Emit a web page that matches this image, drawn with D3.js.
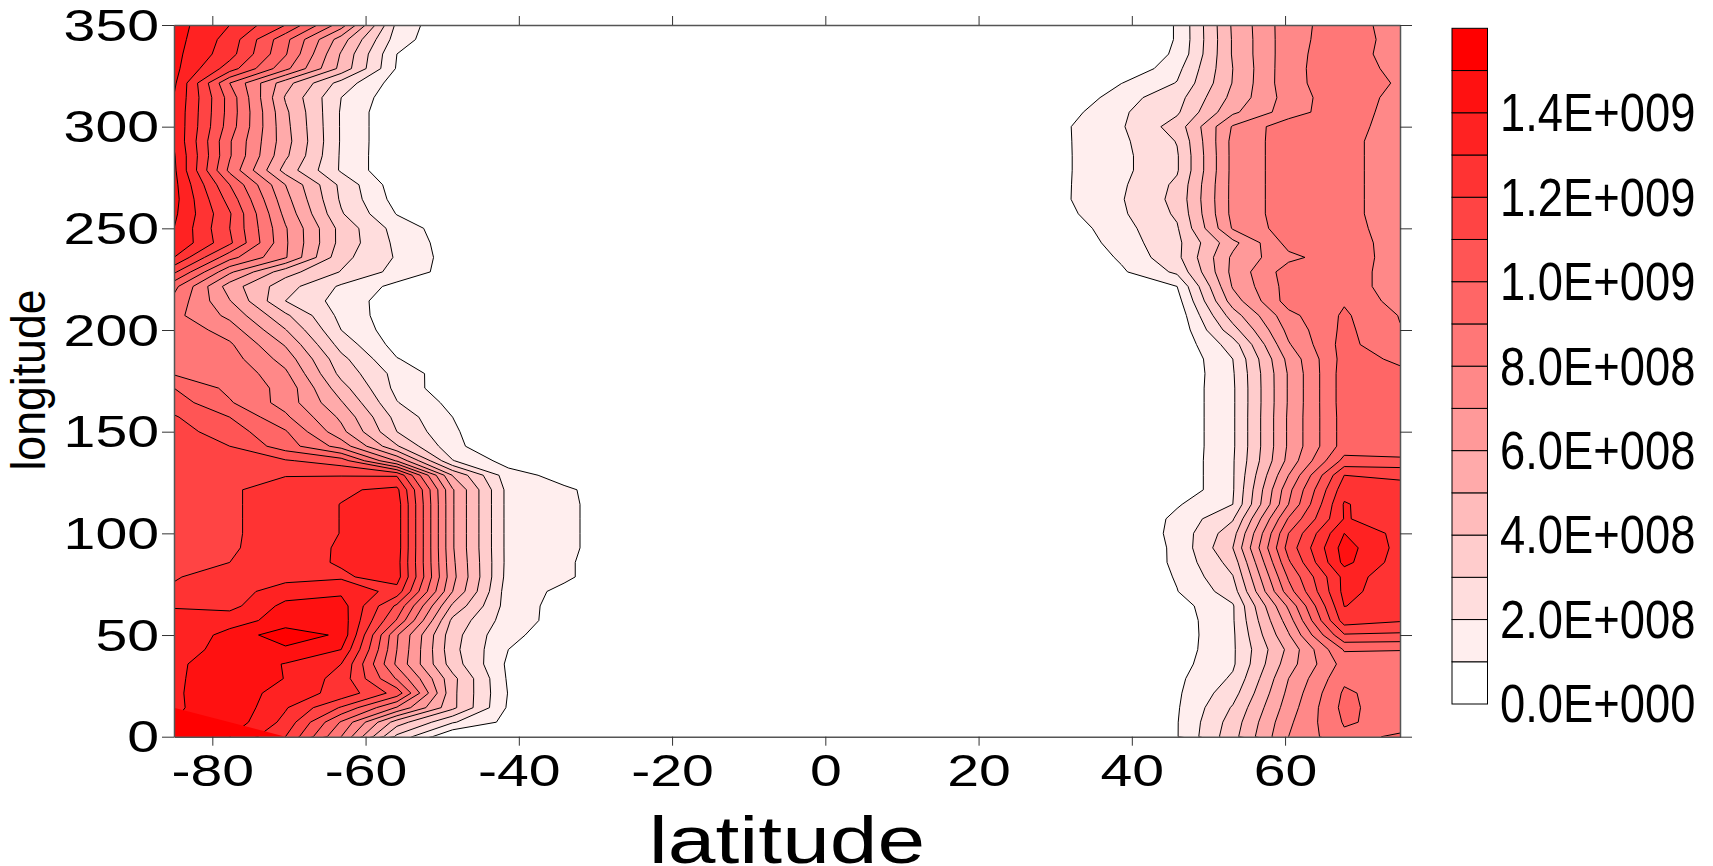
<!DOCTYPE html>
<html>
<head>
<meta charset="utf-8">
<script src="https://cdn.jsdelivr.net/npm/d3@7"></script>
<style>
  html, body { margin: 0; padding: 0; background: #fff; }
  text { font-family: "Liberation Sans", Arial, sans-serif; fill: #000; }
</style>
</head>
<body>
<div id="vis-container"></div>
<script>
let width_map = 1713;
let height_map = 866;

// the grid the contours were read from, 23 latitudes by 50 longitudes
let latitudes = [-85, -77.73, -70.45, -63.18, -55.91, -48.64, -41.36, -34.09, -26.82, -19.55, -12.27, -5, 2.27, 9.55, 16.82, 24.09, 31.36, 38.64, 45.91, 53.18, 60.45, 67.73, 75];
let lon_step = 350 / 49;

// values in units of 1E+008, one row per longitude from 0 to 350
// southern columns, latitude -85 to -26.82
let south_values = [
  [14.2, 14.0, 12.0, 8.0, 2.75, 0, 0, 0, 0],
  [14.0, 14.66, 12.7, 8.9, 4.5, 2.1, 0.7, 0, 0],
  [13.8, 14.8, 13.1, 10.9, 7.9, 4.25, 0.85, 0, 0],
  [13.85, 14.7, 13.5, 12.7, 10.6, 4.25, 0.95, 0, 0],
  [13.8, 14.75, 13.97, 12.6, 8.9, 4.3, 0.85, 0, 0],
  [13.8, 14.6, 13.95, 13.0, 7.8, 3.5, 0.8, 0, 0],
  [13.55, 14.36, 14.77, 14.0, 8.0, 3.3, 1.0, 0.3, 0],
  [13.4, 14.25, 15.7, 14.79, 8.1, 3.4, 1.13, 0.7, 0],
  [13.25, 13.68, 14.3, 14.6, 9.9, 3.75, 1.47, 0.61, 0],
  [12.95, 12.65, 14.3, 14.45, 10.8, 4.8, 1.53, 0.6, 0],
  [12.1, 12.6, 13.45, 13.8, 12.6, 6.0, 1.45, 0.8, 0],
  [11.95, 12.3, 12.7, 12.85, 13.45, 6.3, 1.6, 1.15, 0.4],
  [11.9, 12.0, 12.6, 13.1, 13.4, 6.2, 1.65, 1.15, 0.4],
  [11.9, 11.87, 12.55, 13.1, 13.5, 6.1, 1.65, 1.2, 0.5],
  [11.85, 11.85, 12.5, 13.02, 13.5, 6.1, 1.65, 1.2, 0.5],
  [11.85, 11.85, 12.5, 13.02, 13.5, 6.1, 1.65, 1.2, 0.5],
  [11.8, 11.85, 12.5, 13.02, 13.5, 6.1, 1.65, 1.2, 0.5],
  [11.75, 11.85, 12.5, 12.85, 13.25, 6.1, 1.65, 1.15, 0.5],
  [11.7, 11.6, 11.95, 11.95, 11.9, 4.95, 1.4, 0.65, 0],
  [11.6, 11.2, 11.1, 10.5, 6.9, 2.05, 0.6, 0, 0],
  [11.5, 11.0, 9.5, 7.6, 4.1, 1.3, 0, 0, 0],
  [11.4, 10.5, 9.1, 6.3, 3.0, 1.15, 0, 0, 0],
  [11.1, 10.0, 8.2, 5.8, 2.65, 1.0, 0, 0, 0],
  [10.5, 9.1, 7.6, 5.1, 2.05, 0.7, 0, 0, 0],
  [10.0, 8.75, 7.7, 4.4, 1.7, 0.3, 0, 0, 0],
  [8.9, 8.85, 7.2, 3.7, 1.64, 0.35, 0, 0, 0],
  [8.7, 8.46, 6.6, 3.3, 1.05, 0.2, 0, 0, 0],
  [8.6, 8.15, 5.9, 2.6, 0.6, 0, 0, 0, 0],
  [8.8, 7.5, 5.05, 2.0, 0.4, 0, 0, 0, 0],
  [8.3, 6.75, 4.2, 1.7, 0.35, 0, 0, 0, 0],
  [8.7, 6.05, 3.0, 1.6, 0.4, 0, 0, 0, 0],
  [9.3, 5.5, 3.4, 1.85, 0.7, 0, 0, 0, 0],
  [11.2, 7.2, 4.4, 2.95, 1.67, 0.55, 0, 0, 0],
  [13.0, 9.35, 7.1, 3.3, 1.9, 0.53, 0, 0, 0],
  [13.95, 11.2, 7.15, 3.65, 1.77, 0.48, 0, 0, 0],
  [14.0, 11.0, 7.1, 3.65, 1.6, 0.35, 0, 0, 0],
  [14.2, 11.1, 6.7, 3.1, 0.95, 0, 0, 0, 0],
  [14.35, 10.6, 6.35, 2.85, 0.6, 0, 0, 0, 0],
  [14.3, 10.0, 6.0, 2.75, 0.4, 0, 0, 0, 0],
  [14.2, 8.75, 4.6, 1.87, 0.1, 0, 0, 0, 0],
  [14.1, 9.1, 5.2, 1.87, 0.1, 0, 0, 0, 0],
  [13.9, 9.1, 5.4, 1.9, 0.1, 0, 0, 0, 0],
  [13.85, 9.5, 5.3, 1.9, 0.1, 0, 0, 0, 0],
  [13.85, 9.6, 5.2, 1.9, 0.1, 0, 0, 0, 0],
  [13.95, 9.6, 4.9, 2.0, 0.3, 0, 0, 0, 0],
  [14.2, 9.0, 5.4, 2.6, 0.5, 0, 0, 0, 0],
  [14.3, 11.5, 8.3, 4.7, 0.9, 0, 0, 0, 0],
  [14.3, 12.4, 9.1, 4.9, 1.0, 0, 0, 0, 0],
  [14.4, 12.6, 9.3, 5.5, 1.5, 0, 0, 0, 0],
  [14.4, 13.0, 11.0, 7.5, 1.75, 0, 0, 0, 0]
];

// northern columns, latitude 31.36 to 75
let north_values = [
  [0, 0, 0.95, 3.65, 7.0, 8.8, 9.1],
  [0, 0, 0.95, 3.45, 6.8, 9.1, 8.7],
  [0, 0, 0.9, 3.1, 6.5, 9.3, 8.27],
  [0, 0, 0.85, 2.6, 6.25, 9.16, 8.46],
  [0, 0, 0.79, 2.15, 6.0, 8.8, 8.4],
  [0, 0, 0.65, 1.85, 5.55, 8.4, 8.35],
  [0, 0, 0.5, 1.85, 5.25, 9.1, 9.05],
  [0, 0, 0.45, 1.85, 5.9, 10.9, 10.8],
  [0, 0, 0.45, 1.9, 6.5, 12.5, 12.1],
  [0, 0, 0.6, 1.9, 7.2, 13.02, 12.6],
  [0, 0, 0.97, 2.5, 8.55, 13.3, 12.4],
  [0, 0, 1.09, 2.95, 9.15, 13.3, 12.6],
  [0, 0, 1.22, 3.4, 9.85, 14.3, 12.5],
  [0, 0, 1.23, 4.0, 10.4, 14.45, 12.65],
  [0, 0, 1.33, 3.6, 10.0, 14.0, 12.65],
  [0, 0, 1.25, 2.9, 9.1, 13.05, 12.65],
  [0, 0, 0.9, 2.0, 8.0, 13.1, 12.2],
  [0, 0, 0.2, 1.9, 7.7, 12.6, 12.2],
  [0, 0, 0.2, 1.9, 7.0, 12.0, 11.9],
  [0, 0, 0.2, 1.9, 6.3, 10.33, 10.2],
  [0, 0, 0.2, 1.85, 6.15, 9.45, 9.4],
  [0, 0, 0.2, 1.85, 6.15, 9.45, 9.4],
  [0, 0, 0.2, 1.85, 6.15, 9.45, 9.4],
  [0, 0, 0.2, 1.85, 6.1, 9.5, 9.3],
  [0, 0, 0.2, 1.85, 6.1, 9.5, 9.3],
  [0, 0, 0.1, 1.9, 6.1, 9.5, 9.2],
  [0, 0, 0.1, 2.0, 6.3, 9.4, 8.83],
  [0, 0, 0.2, 2.5, 6.9, 9.4, 8.0],
  [0, 0, 0.2, 3.6, 7.3, 9.25, 8.05],
  [0, 0, 0.3, 4.5, 7.7, 9.15, 7.95],
  [0, 0, 0.6, 5.5, 8.45, 8.9, 7.55],
  [0, 0, 1.0, 6.1, 8.4, 8.6, 7.4],
  [0, 0.85, 2.2, 6.3, 8.5, 8.6, 7.4],
  [0, 1.15, 2.75, 6.2, 7.75, 8.6, 7.5],
  [0.1, 1.5, 2.75, 5.7, 8.35, 8.6, 7.45],
  [0.4, 1.65, 2.9, 7.1, 8.5, 8.5, 7.34],
  [0.75, 1.85, 3.15, 7.3, 8.5, 8.45, 7.2],
  [0.9, 1.93, 3.3, 7.3, 8.5, 8.45, 7.2],
  [0.9, 1.85, 3.2, 7.3, 8.5, 8.45, 7.2],
  [0.9, 1.75, 2.9, 7.3, 8.5, 8.45, 7.2],
  [0.9, 1.75, 2.9, 7.3, 8.5, 8.45, 7.2],
  [0.9, 1.8, 3.05, 7.3, 8.5, 8.45, 7.2],
  [0.9, 1.9, 3.45, 7.1, 8.6, 8.6, 7.3],
  [0.6, 1.86, 2.85, 5.8, 7.5, 8.75, 7.39],
  [0, 1.62, 2.6, 5.3, 7.45, 8.7, 7.6],
  [0, 0.98, 2.05, 5.05, 7.65, 8.7, 7.86],
  [0, 0, 1.7, 5.0, 7.65, 8.75, 7.58],
  [0, 0, 1.18, 5.1, 7.6, 8.75, 7.3],
  [0, 0, 1.07, 5.1, 7.6, 8.6, 7.55],
  [0, 0, 1.07, 5.15, 7.6, 8.53, 7.5]
];

// band at the corner with no contour line round it
let corner_lat = [-85, -85, -70.45];
let corner_lon = [0, 14.29, 0];

let levels = [1, 2, 3, 4, 5, 6, 7, 8, 9, 10, 11, 12, 13, 14, 15];
let legend_bands = [0, 1, 2, 3, 4, 5, 6, 7, 8, 9, 10, 11, 12, 13, 14, 15];
let legend_ticks = [0, 2, 4, 6, 8, 10, 12, 14];
let legend_labels = ["0.0E+000", "2.0E+008", "4.0E+008", "6.0E+008", "8.0E+008", "1.0E+009", "1.2E+009", "1.4E+009"];
let lat_ticks = [-80, -60, -40, -20, 0, 20, 40, 60];
let lon_ticks = [0, 50, 100, 150, 200, 250, 300, 350];

let x = d3.scaleLinear().domain([-85, 75]).range([174, 1400]);
let y = d3.scaleLinear().domain([0, 350]).range([736.7, 25]);
let legend_y = d3.scaleLinear().domain([0, 16]).range([704, 28.3]);

// white to pure red in 16 equal steps
let band_color = d3.scaleLinear().domain([0, 15]).range(["#ffffff", "#ff0000"]);

let svg = d3.select("#vis-container").append("svg")
  .attr("width", width_map)
  .attr("height", height_map)
  .style("display", "block");

svg.append("clipPath").attr("id", "plot-clip")
  .append("rect")
  .attr("x", x(-85)).attr("y", y(350))
  .attr("width", x(75) - x(-85)).attr("height", y(0) - y(350));

// join the two sides, white in between
let gap = latitudes.length - south_values[0].length - north_values[0].length;
let grid = [];
south_values.forEach(function(row, i) {
  grid = grid.concat(row, new Array(gap).fill(0), north_values[i]);
});

let contours = d3.contours()
  .size([latitudes.length, south_values.length])
  .thresholds(levels)(grid);

// contour coordinates have grid values at cell centres
let lat_at = d3.scaleLinear().domain([0.5, latitudes.length - 0.5]).range([-85, 75]);
let project = d3.geoTransform({
  point: function(cx, cy) {
    this.stream.point(x(lat_at(cx)), y((cy - 0.5) * lon_step));
  }
});
let path = d3.geoPath(project);

let plot = svg.append("g").attr("clip-path", "url(#plot-clip)");

plot.selectAll("path.band")
  .data(contours)
  .enter().append("path")
    .attr("class", "band")
    .attr("d", path)
    .attr("fill", function(d) { return band_color(d.value); })
    .attr("stroke", "#000")
    .attr("stroke-width", 1)
    .attr("stroke-linejoin", "round");

plot.append("path")
  .datum(corner_lat.map(function(d, i) { return [x(d), y(corner_lon[i])]; }))
  .attr("d", d3.line())
  .attr("fill", band_color(15));

// axes on all four sides, labels only left and bottom
function style_axis(g) {
  g.selectAll("path.domain").attr("stroke", "#555").attr("stroke-width", 1.5);
  g.selectAll(".tick line").attr("stroke", "#333").attr("stroke-width", 1);
}

function stretch_labels(g, sx, tx, ty) {
  g.selectAll(".tick text")
    .attr("x", null).attr("y", null).attr("dy", null)
    .attr("dominant-baseline", "central")
    .attr("transform", "translate(" + tx + "," + ty + ") scale(" + sx + ",1)")
    .style("font-size", "44px");
}

let axis_bottom = svg.append("g")
  .attr("transform", "translate(0," + y(0) + ")")
  .call(d3.axisBottom(x).tickValues(lat_ticks).tickFormat(function(d) { return String(d); }).tickSizeInner(9).tickSizeOuter(0));
axis_bottom.call(style_axis).call(stretch_labels, 1.3, 0, 34);
axis_bottom.selectAll(".tick text").attr("text-anchor", "middle");

let axis_top = svg.append("g")
  .attr("transform", "translate(0," + y(350) + ")")
  .call(d3.axisTop(x).tickValues(lat_ticks).tickFormat("").tickSizeInner(9).tickSizeOuter(0));
axis_top.call(style_axis);

let axis_left = svg.append("g")
  .attr("transform", "translate(" + x(-85) + ",0)")
  .call(d3.axisLeft(y).tickValues(lon_ticks).tickSizeInner(12).tickSizeOuter(0));
axis_left.call(style_axis).call(stretch_labels, 1.3, -15, 0);
axis_left.selectAll(".tick text").attr("text-anchor", "end");

let axis_right = svg.append("g")
  .attr("transform", "translate(" + x(75) + ",0)")
  .call(d3.axisRight(y).tickValues(lon_ticks).tickFormat("").tickSizeInner(12).tickSizeOuter(0));
axis_right.call(style_axis);

// axis titles
svg.append("text")
  .attr("transform", "translate(787,863) scale(1.28,1)")
  .attr("text-anchor", "middle")
  .style("font-size", "67px")
  .text("latitude");

svg.append("text")
  .attr("transform", "translate(45,380) rotate(-90) scale(0.93,1)")
  .attr("text-anchor", "middle")
  .style("font-size", "48px")
  .text("longitude");

// legend
let legend = svg.append("g");

legend.selectAll("rect")
  .data(legend_bands)
  .enter().append("rect")
    .attr("x", 1452)
    .attr("y", function(d) { return legend_y(d + 1); })
    .attr("width", 35.5)
    .attr("height", function(d) { return legend_y(d) - legend_y(d + 1); })
    .attr("fill", function(d) { return band_color(d); })
    .attr("stroke", "#000")
    .attr("stroke-width", 1);

legend.selectAll("text")
  .data(legend_ticks)
  .enter().append("text")
    .attr("transform", function(d) { return "translate(1500," + legend_y(d) + ") scale(0.84,1)"; })
    .attr("dominant-baseline", "central")
    .style("font-size", "54px")
    .text(function(d, i) { return legend_labels[i]; });
</script>
</body>
</html>
